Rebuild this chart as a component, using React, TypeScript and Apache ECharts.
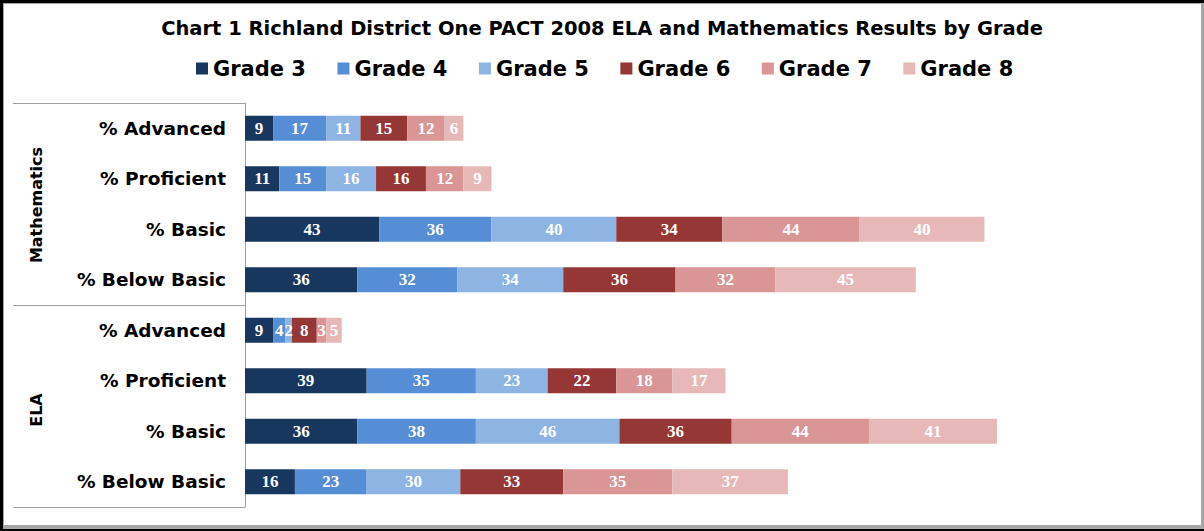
import React, { useEffect, useRef } from "react";
import * as echarts from "echarts";

const titleText = "Chart 1 Richland District One PACT 2008 ELA and Mathematics Results by Grade";
const subjects = ["Mathematics", "ELA"];
const levels = ["% Advanced", "% Proficient", "% Basic", "% Below Basic"];
const grades = ["Grade 3", "Grade 4", "Grade 5", "Grade 6", "Grade 7", "Grade 8"];
const colors = ["#17375E", "#558ED5", "#8EB4E3", "#953735", "#D99694", "#E6B9B8"];

// rows: Math Adv, Math Prof, Math Basic, Math Below, ELA Adv, ELA Prof, ELA Basic, ELA Below
const grade3 = [9, 11, 43, 36, 9, 39, 36, 16];
const grade4 = [17, 15, 36, 32, 4, 35, 38, 23];
const grade5 = [11, 16, 40, 34, 2, 23, 46, 30];
const grade6 = [15, 16, 34, 36, 8, 22, 36, 33];
const grade7 = [12, 12, 44, 32, 3, 18, 44, 35];
const grade8 = [6, 9, 40, 45, 5, 17, 41, 37];
const seriesValues = [grade3, grade4, grade5, grade6, grade7, grade8];

export default function App() {
  const ref = useRef<HTMLDivElement>(null);
  useEffect(() => {
    if (!ref.current) return;
    const chart = echarts.init(ref.current, undefined, { renderer: "svg" });
    const categories: string[] = [];
    subjects.forEach((s) => levels.forEach((l) => categories.push(s + "|" + l)));
    const sans = "DejaVu Sans";
    chart.setOption({
      animation: false,
      backgroundColor: "#ffffff",
      title: {
        text: titleText,
        left: "center",
        top: 13,
        textStyle: { fontFamily: sans, fontWeight: "bold", fontSize: 19.5, color: "#000" },
      },
      legend: {
        data: grades,
        left: 191,
        top: 53,
        itemWidth: 12,
        itemHeight: 12,
        itemGap: 31.5,
        icon: "rect",
        textStyle: { fontFamily: sans, fontWeight: "bold", fontSize: 21, color: "#000" },
      },
      graphic: [
        { type: "rect", shape: { x: 0, y: 0, width: 1204, height: 531 }, style: { fill: "#000" }, z: -10, silent: true },
        { type: "rect", shape: { x: 3, y: 3, width: 1201, height: 526 }, style: { fill: "#a6a6a6" }, z: -9, silent: true },
        { type: "rect", shape: { x: 4, y: 4, width: 1197, height: 521 }, style: { fill: "#fff" }, z: -8, silent: true },
        {
          type: "text",
          x: 36,
          y: 205,
          rotation: Math.PI / 2,
          style: {
            text: subjects[0],
            fontFamily: sans,
            fontWeight: "bold",
            fontSize: 16,
            fill: "#000",
            align: "center",
            verticalAlign: "middle",
          },
        },
        {
          type: "text",
          x: 36,
          y: 410,
          rotation: Math.PI / 2,
          style: {
            text: subjects[1],
            fontFamily: sans,
            fontWeight: "bold",
            fontSize: 16,
            fill: "#000",
            align: "center",
            verticalAlign: "middle",
          },
        },
      ],
      grid: { left: 245, right: 23, top: 103, bottom: 24, containLabel: false },
      xAxis: {
        type: "value",
        min: 0,
        max: 300,
        show: false,
      },
      yAxis: {
        type: "category",
        inverse: true,
        data: categories,
        axisLine: { show: true, lineStyle: { color: "#a0a0a0", width: 1 } },
        axisTick: {
          show: true,
          length: 232,
          interval: (index: number) => index % 4 === 0,
          lineStyle: { color: "#a0a0a0", width: 1 },
        },
        axisLabel: {
          margin: 19,
          formatter: (v: string) => v.split("|")[1],
          fontFamily: sans,
          fontWeight: "bold",
          fontSize: 18.5,
          color: "#000",
        },
      },
      series: grades.map((g, i) => ({
        name: g,
        type: "bar",
        stack: "total",
        barWidth: 25,
        data: seriesValues[i],
        itemStyle: { color: colors[i] },
        label: {
          show: true,
          position: "inside",
          color: "#fff",
          fontFamily: "Liberation Serif",
          fontWeight: "bold",
          fontSize: 17,
        },
      })),
    });
    return () => chart.dispose();
  }, []);
  return <div ref={ref} style={{ position: "fixed", left: 0, top: 0, width: 1204, height: 531 }} />;
}
